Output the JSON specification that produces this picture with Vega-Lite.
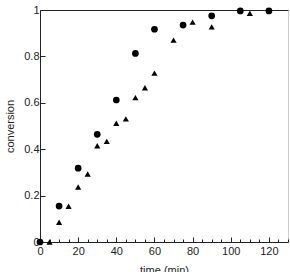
{
  "$schema": "https://vega.github.io/schema/vega-lite/v6.json",
  "autosize": "none",
  "width": 248,
  "height": 232,
  "padding": {"left": 40, "top": 10, "right": 2, "bottom": 30},
  "background": "white",
  "config": {
    "view": {"stroke": "#cccccc", "strokeWidth": 1},
    "font": "Liberation Sans",
    "axis": {
      "grid": false,
      "domainColor": "#222222",
      "tickColor": "#222222",
      "labelColor": "#222222",
      "titleColor": "#222222",
      "labelFont": "Liberation Sans",
      "titleFont": "Liberation Sans",
      "labelFontSize": 11,
      "titleFontSize": 11,
      "titleFontWeight": "normal"
    }
  },
  "data": {
    "values": [
      {"time": 0, "conversion": 0.0, "run": "A"},
      {"time": 10, "conversion": 0.155, "run": "A"},
      {"time": 20, "conversion": 0.318, "run": "A"},
      {"time": 30, "conversion": 0.464, "run": "A"},
      {"time": 40, "conversion": 0.612, "run": "A"},
      {"time": 50, "conversion": 0.813, "run": "A"},
      {"time": 60, "conversion": 0.917, "run": "A"},
      {"time": 75, "conversion": 0.935, "run": "A"},
      {"time": 90, "conversion": 0.975, "run": "A"},
      {"time": 105, "conversion": 0.996, "run": "A"},
      {"time": 120, "conversion": 0.996, "run": "A"},
      {"time": 5, "conversion": 0.0, "run": "B"},
      {"time": 10, "conversion": 0.085, "run": "B"},
      {"time": 15, "conversion": 0.154, "run": "B"},
      {"time": 20, "conversion": 0.237, "run": "B"},
      {"time": 25, "conversion": 0.293, "run": "B"},
      {"time": 30, "conversion": 0.415, "run": "B"},
      {"time": 35, "conversion": 0.434, "run": "B"},
      {"time": 40, "conversion": 0.512, "run": "B"},
      {"time": 45, "conversion": 0.531, "run": "B"},
      {"time": 50, "conversion": 0.622, "run": "B"},
      {"time": 55, "conversion": 0.665, "run": "B"},
      {"time": 60, "conversion": 0.728, "run": "B"},
      {"time": 70, "conversion": 0.87, "run": "B"},
      {"time": 80, "conversion": 0.948, "run": "B"},
      {"time": 90, "conversion": 0.927, "run": "B"},
      {"time": 110, "conversion": 0.986, "run": "B"}
    ]
  },
  "resolve": {"axis": {"x": "independent"}},
  "layer": [
    {
      "transform": [{"filter": "datum.run === 'A'"}],
      "mark": {"type": "point", "shape": "circle", "filled": true, "color": "#000000", "opacity": 1, "size": 45},
      "encoding": {
        "x": {
          "field": "time", "type": "quantitative",
          "scale": {"domain": [0, 130], "nice": false, "zero": false},
          "axis": {
            "title": "time (min)",
            "titlePadding": 6,
            "values": [0,5,10,15,20,25,30,35,40,45,50,55,60,65,70,75,80,85,90,95,100,105,110,115,120,125,130],
            "labelExpr": "datum.value % 20 === 0 ? format(datum.value, 'd') : ''",
            "tickSize": {"condition": {"test": "datum.value % 20 === 0", "value": -5}, "value": -3},
            "labelPadding": 8,
            "labelFlush": false,
            "labelOverlap": false
          }
        },
        "y": {
          "field": "conversion", "type": "quantitative",
          "scale": {"domain": [0, 1], "nice": false},
          "axis": {
            "title": "conversion",
            "titlePadding": 8,
            "values": [0,0.05,0.1,0.15,0.2,0.25,0.3,0.35,0.4,0.45,0.5,0.55,0.6,0.65,0.7,0.75,0.8,0.85,0.9,0.95,1],
            "labelExpr": "abs(datum.value*5 - round(datum.value*5)) < 1e-6 ? format(datum.value, '~g') : ''",
            "tickSize": {"condition": {"test": "abs(datum.value*5 - round(datum.value*5)) < 1e-6", "value": -5}, "value": -3},
            "labelPadding": 6,
            "labelFlush": false,
            "labelOverlap": false
          }
        }
      }
    },
    {
      "transform": [{"filter": "datum.run === 'B'"}],
      "mark": {"type": "point", "shape": "triangle-up", "filled": true, "color": "#000000", "opacity": 1, "size": 38},
      "encoding": {
        "x": {
          "field": "time", "type": "quantitative",
          "scale": {"domain": [0, 130], "nice": false, "zero": false},
          "axis": {"orient": "top", "title": null, "labels": false, "ticks": false, "domainColor": "#222222"}
        },
        "y": {"field": "conversion", "type": "quantitative"}
      }
    }
  ]
}
